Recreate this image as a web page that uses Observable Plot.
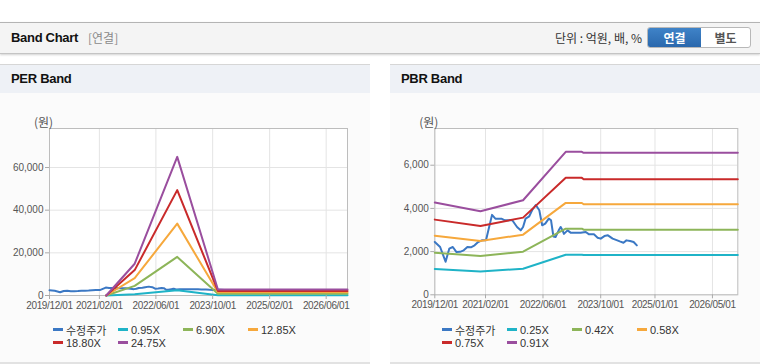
<!DOCTYPE html>
<html><head><meta charset="utf-8">
<script src="https://cdn.jsdelivr.net/npm/d3@7"></script>
<script src="https://cdn.jsdelivr.net/npm/@observablehq/plot@0.6"></script>
<style>
body{margin:0;width:760px;height:364px;background:#fff;position:relative;overflow:hidden;font-family:"Liberation Sans",Arial,"Noto Sans CJK KR",sans-serif;}
#hdr{position:absolute;left:0;top:22px;width:760px;height:30px;background:#f4f4f4;border-top:1px solid #b4b4b4;border-bottom:1px solid #c4c4c4;box-shadow:0 1px 2px rgba(0,0,0,0.18);}
#hdr .ttl{position:absolute;left:11px;top:0;line-height:30px;font-size:13px;font-weight:bold;color:#111;letter-spacing:-0.3px;}
#hdr .sub{position:absolute;left:88px;top:0;line-height:30px;font-size:12px;color:#8a8a8a;font-family:"Noto Sans CJK KR",sans-serif;}
#hdr .unit{position:absolute;right:118px;top:0;line-height:30px;font-size:12px;color:#333;font-family:"Noto Sans CJK KR",sans-serif;}
#btns{position:absolute;left:647px;top:4px;width:102px;height:19px;border:1px solid #b8b8b8;border-radius:3px;overflow:hidden;display:flex;background:#fff;}
#btns span{display:block;text-align:center;line-height:19px;font-size:12px;font-weight:bold;font-family:"Noto Sans CJK KR",sans-serif;}
#btns .on{width:53px;background:linear-gradient(#3f83c8,#2a68ad);color:#fff;}
#btns .off{width:49px;color:#555;}
.panel{position:absolute;top:64px;width:370px;height:297px;background:#fbfbfb;border-top:1px solid #d6d6d6;border-bottom:2px solid #e2e2e2;}
.panel .pt{height:28px;line-height:28px;background:#eef1f6;padding-left:11px;font-size:13px;font-weight:bold;color:#111;letter-spacing:-0.3px;}
.panel svg{display:block;}
.legend{position:absolute;top:258px;width:300px;display:flex;flex-wrap:wrap;}
.legend .it{width:65px;height:13px;display:flex;align-items:center;font-size:11px;color:#333;font-family:"Liberation Sans",Arial,"Noto Sans CJK KR",sans-serif;white-space:nowrap;}
.legend .sw{display:inline-block;width:10px;height:2.5px;margin-right:3px;}
g[aria-label="x-axis tick label"] text{letter-spacing:-0.35px;}
</style></head>
<body>
<div id="hdr"><span class="ttl">Band Chart</span><span class="sub">[연결]</span><span class="unit">단위 : 억원, 배, %</span>
<div id="btns"><span class="on">연결</span><span class="off">별도</span></div></div>
<div class="panel" id="perPanel" style="left:0"><div class="pt">PER Band</div></div>
<div class="panel" id="pbrPanel" style="left:390px"><div class="pt">PBR Band</div></div>
<script>
// ---- data ----
const priceDates = ["2019-12-01","2020-01-15","2020-03-01","2020-04-01","2020-05-01","2020-06-01","2020-07-01","2020-08-01","2020-09-01","2020-10-01","2020-11-01","2020-12-01","2021-01-01","2021-02-05","2021-03-28","2021-04-25","2021-06-15","2021-07-15","2021-09-15","2021-10-25","2021-11-25","2021-12-15","2022-01-05","2022-02-05","2022-03-01","2022-04-01","2022-05-01","2022-05-25","2022-06-20","2022-07-20","2022-08-08","2022-08-28","2022-09-15","2022-10-12","2022-10-28","2022-11-12","2022-11-25","2022-12-25","2023-01-20","2023-04-15","2023-05-28","2023-06-25","2023-08-05","2023-09-05","2023-10-01","2023-11-01","2023-12-01","2024-01-10","2024-02-18","2024-03-10","2024-04-10","2024-05-05","2024-06-05","2024-07-05","2024-08-01"];
const priceValues = [2444,2212,1530,2135,2212,1980,1990,2058,2212,2200,2290,2444,2521,2521,3700,3527,3527,3450,3450,3140,2985,3140,3527,3635,3914,4160,3914,3218,3295,3527,3450,2700,2676,2985,3140,3000,2820,2985,2877,2877,2908,2800,2800,2645,2600,2719,2754,2599,2520,2473,2413,2520,2490,2444,2290];

const perBandDates = ["2021-04-01","2021-12-01","2022-12-01","2023-11-15","2026-12-01"];
const perBand095 = [0,600,2500,110,110];
const perBand690 = [0,4500,18100,790,790];
const perBand1285 = [0,8100,33700,1470,1470];
const perBand1880 = [0,11900,49400,2150,2150];
const perBand2475 = [0,14900,65000,2820,2820];

const pbrBandDates = ["2019-12-01","2020-12-20","2021-12-15","2022-12-10","2023-04-25","2023-05-10","2026-12-01"];
const pbrBand025 = [1191,1083,1207,1856,1856,1841,1841];
const pbrBand042 = [1949,1795,1996,3063,3063,3017,3017];
const pbrBand058 = [2738,2491,2785,4254,4254,4192,4192];
const pbrBand075 = [3481,3187,3574,5415,5415,5353,5353];
const pbrBand091 = [4270,3868,4378,6621,6621,6575,6575];

const perLabels = ["수정주가","0.95X","6.90X","12.85X","18.80X","24.75X"];
const pbrLabels = ["수정주가","0.25X","0.42X","0.58X","0.75X","0.91X"];
const seriesColors = ["#3b78c4","#1fb3c7","#8db559","#f6a83c","#c92a2a","#9a4e9e"];

const xDomain = ["2019-12-01","2026-12-01"];
const perXTicks = ["2019-12-01","2021-02-01","2022-06-01","2023-10-01","2025-02-01","2026-06-01"];
const pbrXTicks = ["2019-12-01","2021-02-01","2022-06-01","2023-10-01","2025-01-01","2026-05-01"];
const perYTicks = [0,20000,40000,60000];
const pbrYTicks = [0,2000,4000,6000];
const perYMax = 78300;
const pbrYMax = 7700;
const yUnit = "(원)";

// ---- build ----
const toDate = s => new Date(s + "T00:00:00Z");
function rows(dates, values){ return dates.map((d,i)=>({date:toDate(d), value:values[i]})); }

function makeChart(cfg){
  const series = [rows(priceDates, priceValues)].concat(cfg.bands.map(b=>rows(cfg.bandDates,b)));
  const lines = series.map((s,i)=>Plot.line(s,{x:"date",y:"value",stroke:seriesColors[i],strokeWidth:2,strokeLinejoin:"round"}));
  const xt = cfg.xTicks.map(toDate);
  const chart = Plot.plot({
    width:370, height:222,
    marginLeft:cfg.ml, marginRight:cfg.mr, marginTop:35, marginBottom:cfg.mb,
    x:{type:"utc", domain:xDomain.map(toDate)},
    y:{domain:[0,cfg.yMax]},
    style:{background:"transparent", fontSize:"10px", color:"#555", fontFamily:'"Liberation Sans",Arial,sans-serif'},
    marks:[
      Plot.frame({fill:"#fff"}),
      Plot.gridX(xt,{stroke:"#e4e4e4",strokeOpacity:1}),
      Plot.gridY(cfg.yTicks,{stroke:"#e4e4e4",strokeOpacity:1}),
      Plot.frame({stroke:"#bdbdbd"}),
      ...lines,
      Plot.axisX(xt,{tickFormat:d3.utcFormat("%Y/%m/%d"),tickSize:4,tickPadding:2,label:null,stroke:"#aaa",fill:"#555"}),
      Plot.axisY(cfg.yTicks,{tickFormat:d3.format(","),tickSize:4,tickPadding:2,label:null,stroke:"#aaa",fill:"#555"}),
      Plot.text([yUnit],{text:d=>d,frameAnchor:"top-left",dx:-6,dy:-10,textAnchor:"middle",fontSize:12,fill:"#555",fontFamily:'"Noto Sans CJK KR",sans-serif'})
    ]
  });
  const panel = document.getElementById(cfg.panel);
  panel.appendChild(chart);
  const lg = document.createElement("div");
  lg.className = "legend";
  lg.style.left = cfg.legendLeft + "px";
  cfg.labels.forEach((lab,i)=>{
    const it = document.createElement("div"); it.className="it";
    const sw = document.createElement("span"); sw.className="sw"; sw.style.background=seriesColors[i];
    const tx = document.createElement("span"); tx.textContent = lab;
    it.appendChild(sw); it.appendChild(tx); lg.appendChild(it);
  });
  panel.appendChild(lg);
}

makeChart({panel:"perPanel", bands:[perBand095,perBand690,perBand1285,perBand1880,perBand2475], bandDates:perBandDates,
  labels:perLabels, xTicks:perXTicks, yTicks:perYTicks, yMax:perYMax, ml:49, mr:23, mb:20, legendLeft:53});
makeChart({panel:"pbrPanel", bands:[pbrBand025,pbrBand042,pbrBand058,pbrBand075,pbrBand091], bandDates:pbrBandDates,
  labels:pbrLabels, xTicks:pbrXTicks, yTicks:pbrYTicks, yMax:pbrYMax, ml:44.3, mr:22.7, mb:20.7, legendLeft:52});
</script>
</body></html>
